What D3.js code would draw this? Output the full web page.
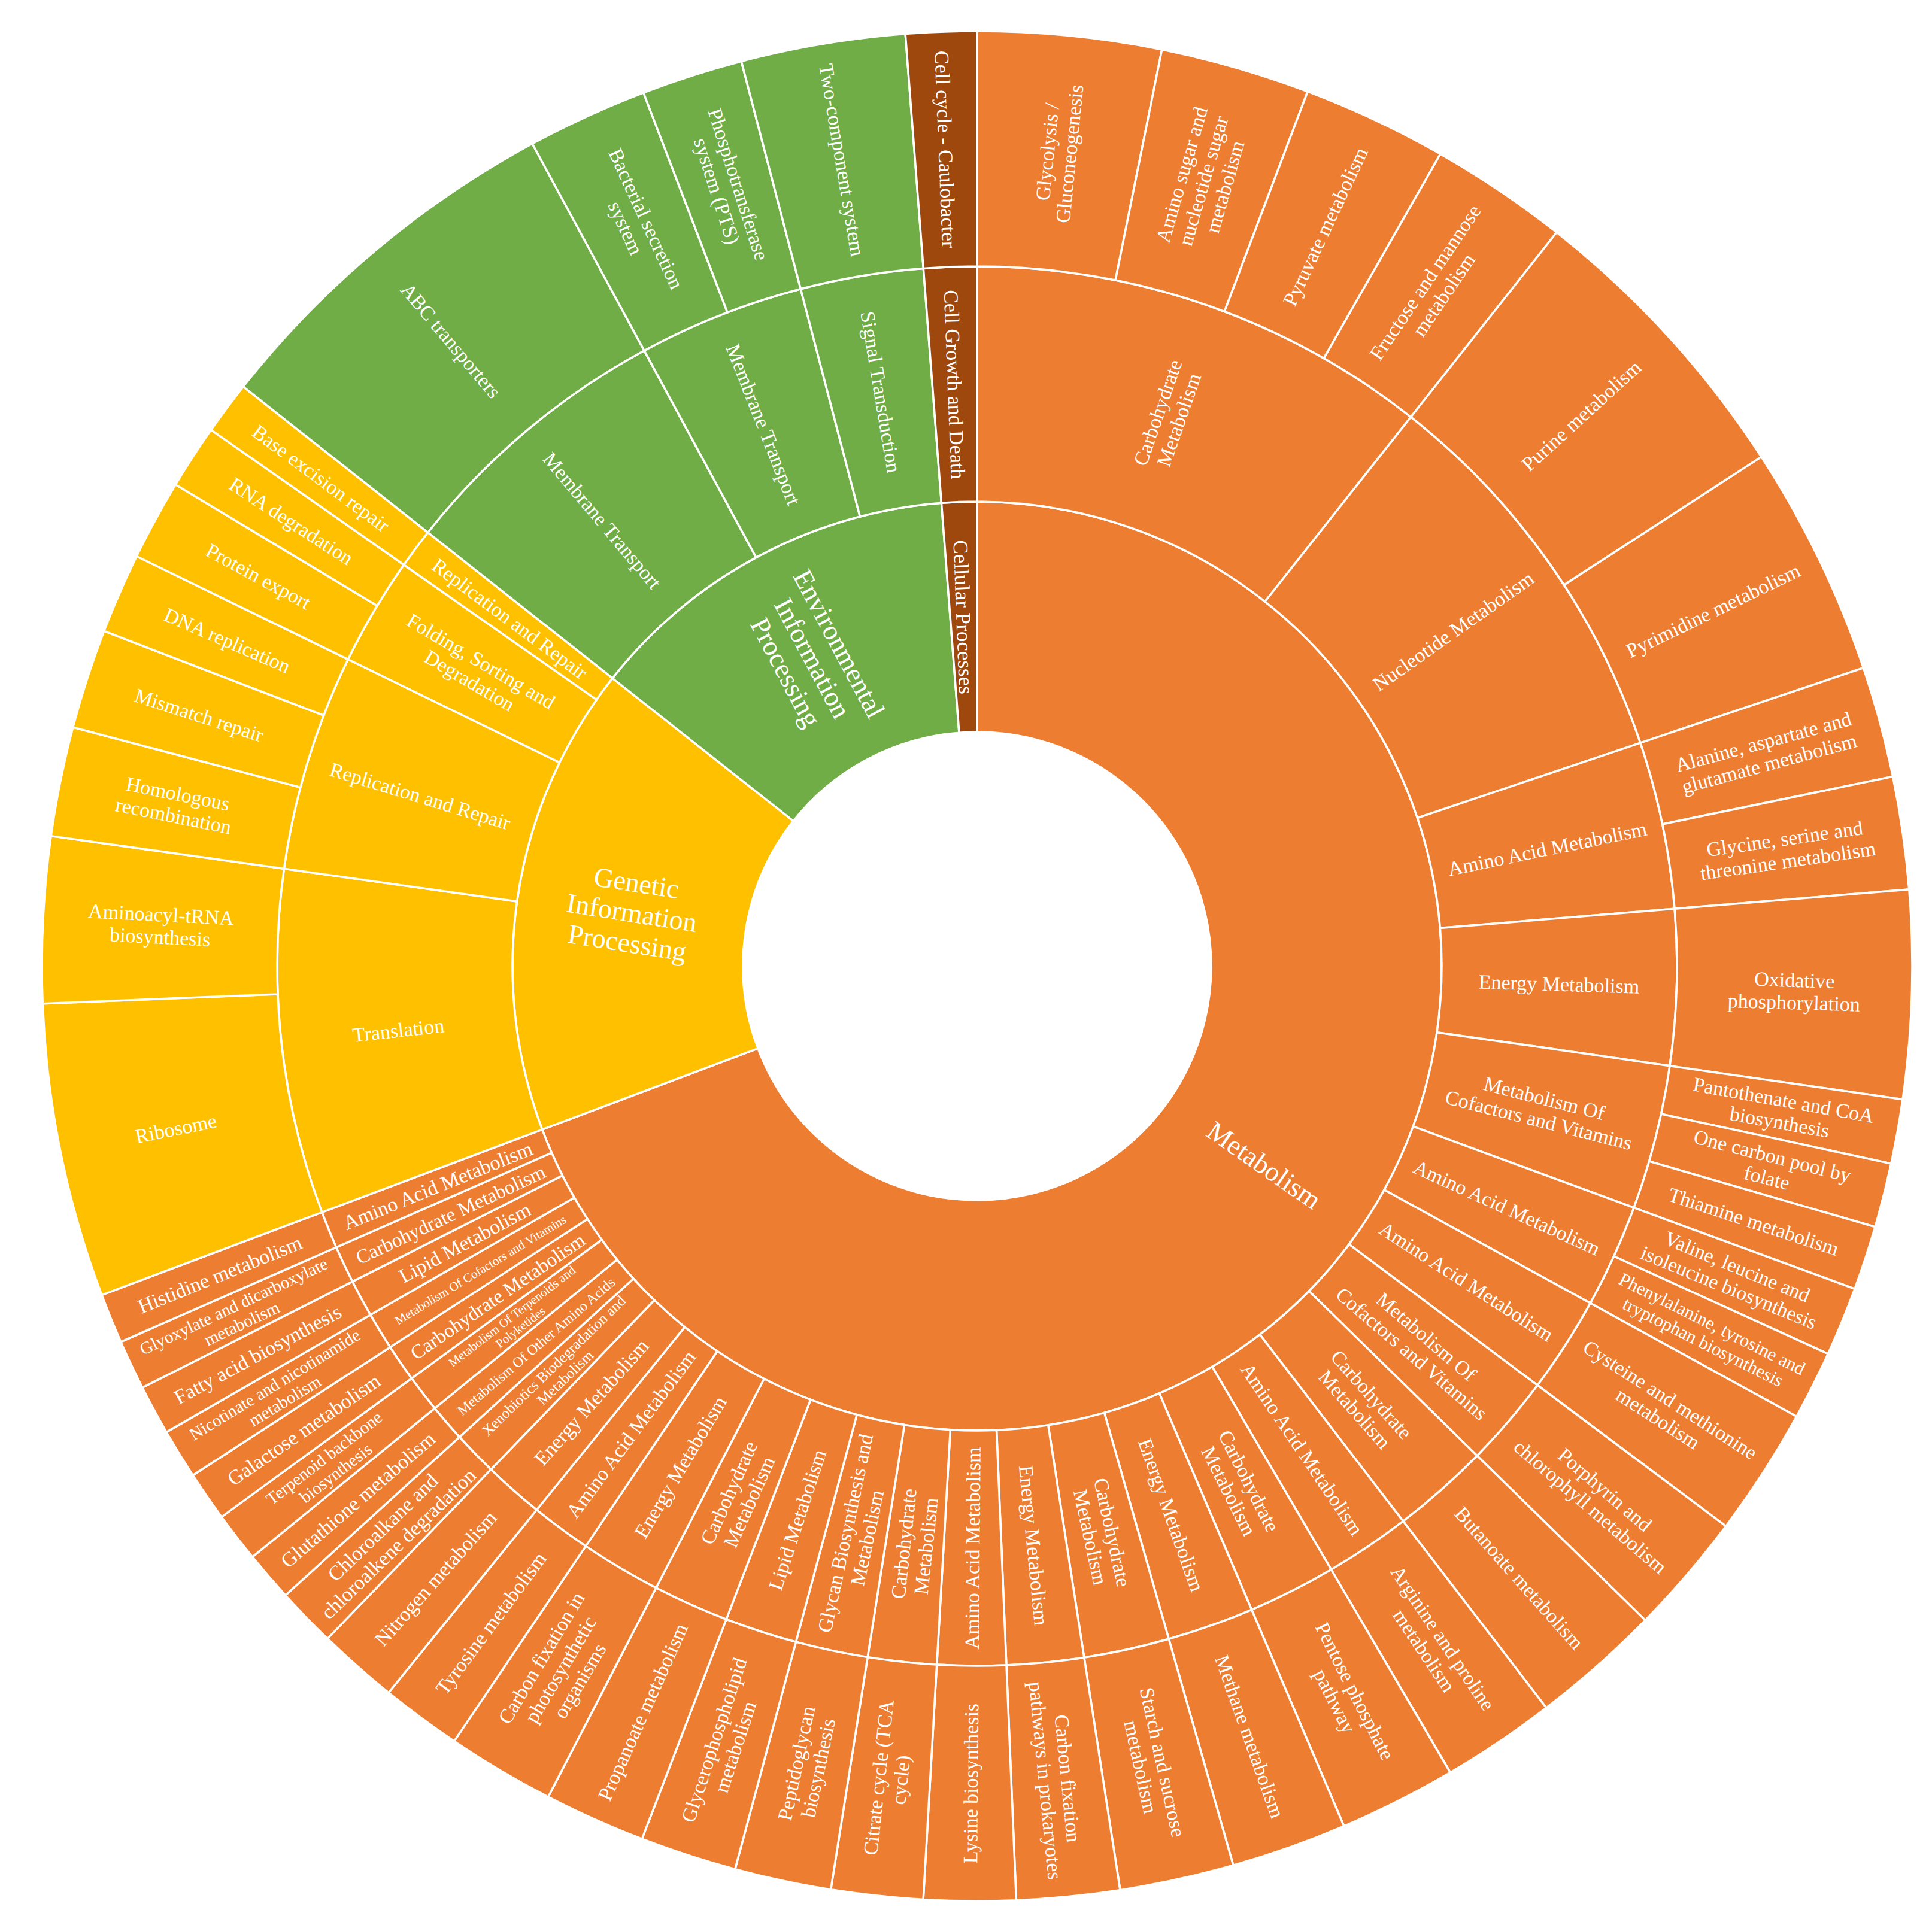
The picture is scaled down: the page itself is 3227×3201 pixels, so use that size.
<!DOCTYPE html>
<html><head><meta charset="utf-8">
<script src="https://cdn.jsdelivr.net/npm/d3@7"></script>
<style>html,body{margin:0;background:#fff}</style>
</head><body><svg id="c" width="3227" height="3201"></svg>
<script>
// Level 1 categories
const catNames = ["Metabolism","Genetic Information Processing","Environmental Information Processing","Cellular Processes"];
const catColors = ["#ED7D31","#FFC000","#70AD47","#9E480E"];
// Level 2 segments (in clockwise order), with parent category index
const subNames = ["Carbohydrate Metabolism","Nucleotide Metabolism","Amino Acid Metabolism","Energy Metabolism","Metabolism Of Cofactors and Vitamins","Amino Acid Metabolism","Amino Acid Metabolism","Metabolism Of Cofactors and Vitamins","Carbohydrate Metabolism","Amino Acid Metabolism","Carbohydrate Metabolism","Energy Metabolism","Carbohydrate Metabolism","Energy Metabolism","Amino Acid Metabolism","Carbohydrate Metabolism","Glycan Biosynthesis and Metabolism","Lipid Metabolism","Carbohydrate Metabolism","Energy Metabolism","Amino Acid Metabolism","Energy Metabolism","Xenobiotics Biodegradation and Metabolism","Metabolism Of Other Amino Acids","Metabolism Of Terpenoids and Polyketides","Carbohydrate Metabolism","Metabolism Of Cofactors and Vitamins","Lipid Metabolism","Carbohydrate Metabolism","Amino Acid Metabolism",
"Translation","Replication and Repair","Folding, Sorting and Degradation","Replication and Repair",
"Membrane Transport","Membrane Transport","Signal Transduction",
"Cell Growth and Death"];
const subParent = [0,0,0,0,0,0,0,0,0,0,0,0,0,0,0,0,0,0,0,0,0,0,0,0,0,0,0,0,0,0, 1,1,1,1, 2,2,2, 3];
// Leaves (pathways), values and their level-2 segment index
const leafNames = ["Glycolysis / Gluconeogenesis","Amino sugar and nucleotide sugar metabolism","Pyruvate metabolism","Fructose and mannose metabolism","Purine metabolism","Pyrimidine metabolism","Alanine, aspartate and glutamate metabolism","Glycine, serine and threonine metabolism","Oxidative phosphorylation","Pantothenate and CoA biosynthesis","One carbon pool by folate","Thiamine metabolism","Valine, leucine and isoleucine biosynthesis","Phenylalanine, tyrosine and tryptophan biosynthesis","Cysteine and methionine metabolism","Porphyrin and chlorophyll metabolism","Butanoate metabolism","Arginine and proline metabolism","Pentose phosphate pathway","Methane metabolism","Starch and sucrose metabolism","Carbon fixation pathways in prokaryotes","Lysine biosynthesis","Citrate cycle (TCA cycle)","Peptidoglycan biosynthesis","Glycerophospholipid metabolism","Propanoate metabolism","Carbon fixation in photosynthetic organisms","Tyrosine metabolism","Nitrogen metabolism","Chloroalkane and chloroalkene degradation","Glutathione metabolism","Terpenoid backbone biosynthesis","Galactose metabolism","Nicotinate and nicotinamide metabolism","Fatty acid biosynthesis","Glyoxylate and dicarboxylate metabolism","Histidine metabolism",
"Ribosome","Aminoacyl-tRNA biosynthesis","Homologous recombination","Mismatch repair","DNA replication","Protein export","RNA degradation","Base excision repair",
"ABC transporters","Bacterial secretion system","Phosphotransferase system (PTS)","Two-component system",
"Cell cycle - Caulobacter"];
const leafValues = [11.4,9.3,9.0,8.6,18.7,14.4,6.9,7.0,12.9,4.0,4.0,4.0,4.3,4.3,8.0,7.6,8.1,7.1,7.3,7.2,7.1,6.4,5.7,5.7,6.0,6.0,6.3,6.7,5.0,5.0,3.7,3.1,3.1,3.1,3.1,3.1,3.1,3.1,
18.3,10.3,6.8,6.2,5.0,5.0,4.0,3.3,
23.3,7.5,6.3,10.2,
4.4];
const leafSub = [0,0,0,0,1,1,2,2,3,4,4,4,5,5,6,7,8,9,10,11,12,13,14,15,16,17,18,19,20,21,22,23,24,25,26,27,28,29,
30,30,31,31,31,32,32,33, 34,35,35,36, 37];

// Build hierarchy
const root = {name:"root", children: catNames.map((n,i)=>({name:n, cat:i, children:[]}))};
const subs = subNames.map((n,i)=>({name:n, cat:subParent[i], children:[]}));
subs.forEach(s=>root.children[s.cat].children.push(s));
leafNames.forEach((n,i)=>{const s=subs[leafSub[i]]; s.children.push({name:n, cat:s.cat, value:leafValues[i]});});

const W=3227,H=3201,cx=1632,cy=1614;
const radii=[391,776,1169,1562];
const h = d3.hierarchy(root).sum(d=>d.value||0);
d3.partition().size([2*Math.PI,4])(h);
const yScale = d3.scaleLinear().domain([1,2,3,4]).range(radii);

const svg=d3.select("#c");
const g=svg.append("g").attr("transform",`translate(${cx},${cy})`);
const arc=d3.arc().startAngle(d=>d.x0).endAngle(d=>d.x1)
  .innerRadius(d=>yScale(d.y0)).outerRadius(d=>yScale(d.y1));
const nodes=h.descendants().filter(d=>d.depth>0);
g.selectAll("path").data(nodes).join("path")
  .attr("d",arc).attr("fill",d=>catColors[d.data.cat])
  .attr("stroke","#fff").attr("stroke-width",3.5);

const font="Liberation Serif, Times New Roman, serif";
const meas=svg.append("text").attr("font-family",font).attr("visibility","hidden");
function tw(s,f){meas.attr("font-size",f).text(s);return meas.node().getComputedTextLength();}
function wrap(text,f,maxW){
  const words=text.split(" ");const lines=[];let cur="";
  for(const w of words){const t=cur?cur+" "+w:w;
    if(cur && tw(t,f)>maxW){lines.push(cur);cur=w;} else cur=t;}
  if(cur)lines.push(cur);return lines;
}
const baseF={1:46,2:34,3:34};
const lab=g.append("g").attr("font-family",font).attr("fill","#fff").attr("text-anchor","middle");
nodes.forEach(d=>{
  const r0=yScale(d.y0),r1=yScale(d.y1),rm=(r0+r1)/2;
  const ang=(d.x0+d.x1)/2*180/Math.PI;
  const L=(r1-r0)*(d.depth===1?0.8:0.88);
  const Wt=rm*(d.x1-d.x0)*0.88;
  let f=baseF[d.depth],lines;
  for(;f>12;f-=1){
    lines=wrap(d.data.name,f,L);
    const mx=d3.max(lines,l=>tw(l,f));
    if(lines.length*f*1.1<=Wt && mx<=L*1.02) break;
  }
  const t=lab.append("text").attr("font-size",f)
    .attr("transform",`rotate(${ang-90}) translate(${rm},0) rotate(${ang<180?0:180})`);
  const n=lines.length;
  lines.forEach((l,i)=>t.append("tspan").attr("x",0)
    .attr("y",(i-(n-1)/2)*f*1.1).attr("dy","0.35em").text(l));
});
</script></body></html>
